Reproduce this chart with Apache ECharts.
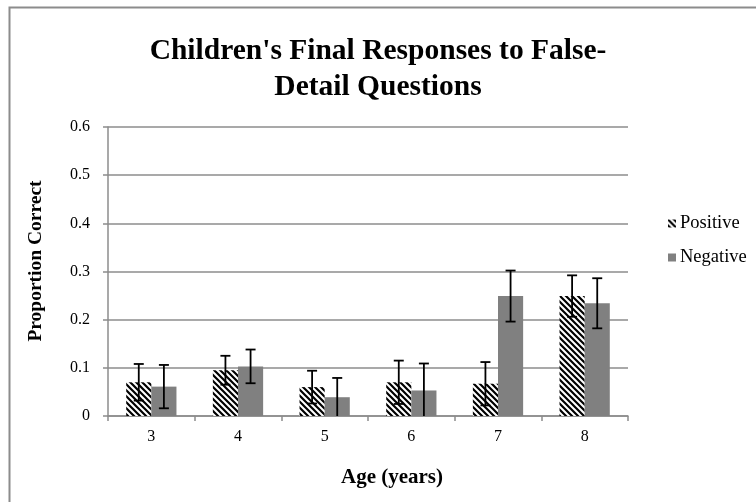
<!DOCTYPE html>
<html><head><meta charset="utf-8">
<script src="https://cdn.jsdelivr.net/npm/echarts@6/dist/echarts.min.js"></script>
<style>html,body{margin:0;padding:0;background:#fff}#c{width:756px;height:502px}</style>
</head><body><div id="c"></div>
<script>
const ages = ['3','4','5','6','7','8'];
const positive = [0.070, 0.095, 0.060, 0.070, 0.067, 0.249];
const negative = [0.061, 0.103, 0.039, 0.053, 0.249, 0.234];
const positiveErr = [0.038, 0.030, 0.034, 0.045, 0.045, 0.043];
const negativeErr = [0.045, 0.035, 0.040, 0.056, 0.053, 0.052];
const seriesNames = ['Positive', 'Negative'];
const yTicks = [0, 0.1, 0.2, 0.3, 0.4, 0.5, 0.6];

const FONT = '"Liberation Serif", serif';
const gapRatio = 0.42;

const hatch = document.createElement('canvas');
hatch.width = 6; hatch.height = 6;
(function(){
  const g = hatch.getContext('2d');
  g.fillStyle = '#fff'; g.fillRect(0,0,6,6);
  g.strokeStyle = '#000'; g.lineWidth = 2.2;
  g.beginPath();
  g.moveTo(-3,-3); g.lineTo(9,9);
  g.moveTo(-3,3); g.lineTo(3,9);
  g.moveTo(3,-3); g.lineTo(9,3);
  g.stroke();
})();

function errSeries(vals, errs, idx) {
  return {
    type: 'custom',
    data: vals.map((v, i) => [i, v, errs[i]]),
    z: 10,
    silent: true,
    renderItem: function (params, api) {
      const i = api.value(0), v = api.value(1), e = api.value(2);
      const band = api.size([1, 0])[0];
      const bw = band * (1 - gapRatio) / 2;
      const c = api.coord([i, v]);
      const x = c[0] + (idx === 0 ? -bw / 2 : bw / 2);
      const lo = Math.max(0, v - e);
      const yTop = api.coord([i, v + e])[1];
      const yBot = api.coord([i, lo])[1];
      const cap = 5;
      const st = { stroke: '#000', lineWidth: 1.8 };
      const ch = [
        { type: 'line', shape: { x1: x, y1: yTop, x2: x, y2: yBot }, style: st },
        { type: 'line', shape: { x1: x - cap, y1: yTop, x2: x + cap, y2: yTop }, style: st }
      ];
      if (v - e > 0) ch.push({ type: 'line', shape: { x1: x - cap, y1: yBot, x2: x + cap, y2: yBot }, style: st });
      return { type: 'group', children: ch };
    }
  };
}

const chart = echarts.init(document.getElementById('c'), null, { renderer: 'canvas' });
chart.setOption({
  animation: false,
  backgroundColor: '#fff',
  textStyle: { fontFamily: FONT },
  title: {
    text: "Children's Final Responses to False-\nDetail Questions",
    left: 'center', top: 28,
    textStyle: { fontFamily: FONT, fontWeight: 'bold', fontSize: 29.5, color: '#000', lineHeight: 36 }
  },
  graphic: [
    { type: 'rect', shape: { x: 9.5, y: 7.5, width: 800, height: 600 }, style: { fill: null, stroke: '#8c8c8c', lineWidth: 2 }, silent: true },
    { type: 'text', x: 392, y: 478, style: { text: 'Age (years)', font: 'bold 21px "Liberation Serif", serif', fill: '#000', textAlign: 'center', textVerticalAlign: 'middle' } },
    { type: 'text', x: 36, y: 261, rotation: Math.PI / 2, style: { text: 'Proportion Correct', font: 'bold 19.5px "Liberation Serif", serif', fill: '#000', textAlign: 'center', textVerticalAlign: 'middle' } }
  ],
  legend: {
    data: seriesNames,
    orient: 'vertical',
    left: 663, top: 209,
    itemWidth: 8, itemHeight: 8, itemGap: 15,
    icon: 'rect',
    textStyle: { fontFamily: FONT, fontSize: 18.5, color: '#000', padding: [0,0,0,-1] }
  },
  grid: { left: 108, right: 128, top: 127, bottom: 86 },
  xAxis: {
    type: 'category', data: ages,
    axisLine: { lineStyle: { color: '#8c8c8c', width: 1.5 } },
    axisTick: { show: true, length: 5, interval: 0, lineStyle: { color: '#8c8c8c', width: 1.5 } },
    axisLabel: { color: '#000', fontSize: 16, fontFamily: FONT, margin: 13 }
  },
  yAxis: {
    type: 'value', min: yTicks[0], max: yTicks[yTicks.length - 1], interval: 0.1,
    axisLine: { show: true, lineStyle: { color: '#8c8c8c', width: 1.5 } },
    axisTick: { show: true, length: 5, lineStyle: { color: '#8c8c8c', width: 1.5 } },
    splitLine: { lineStyle: { color: '#8c8c8c', width: 1.5 } },
    axisLabel: { color: '#000', fontSize: 16, fontFamily: FONT, margin: 18,
      formatter: v => v === 0 ? '0' : v.toFixed(1) }
  },
  series: [
    { name: seriesNames[0], type: 'bar', data: positive, barGap: '0%', barCategoryGap: (gapRatio * 100) + '%',
      itemStyle: { color: { image: hatch, repeat: 'repeat' } } },
    { name: seriesNames[1], type: 'bar', data: negative, barGap: '0%', barCategoryGap: (gapRatio * 100) + '%',
      itemStyle: { color: '#808080' } },
    errSeries(positive, positiveErr, 0),
    errSeries(negative, negativeErr, 1)
  ]
});
</script></body></html>
